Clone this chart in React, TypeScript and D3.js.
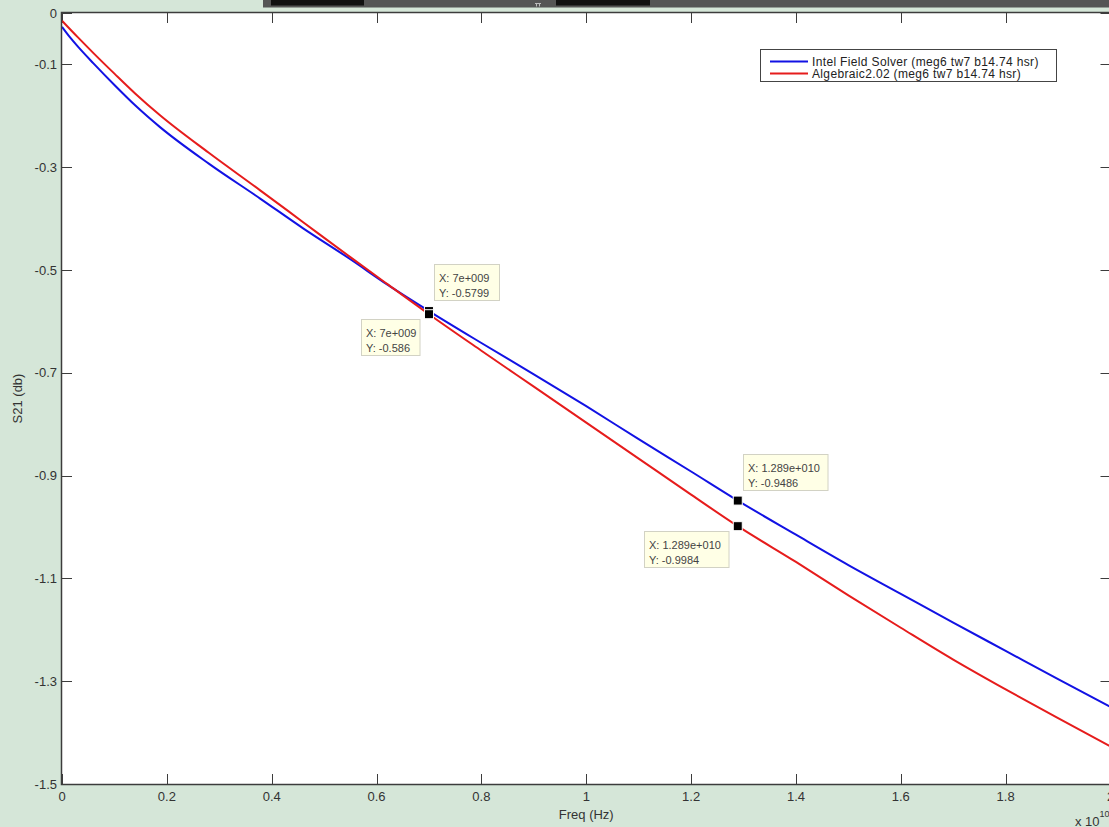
import React, { useEffect, useRef } from 'react';
import * as d3 from 'd3';

// frequency in units of 1e10 Hz
const freqIntel = [0, 0.015, 0.03, 0.06, 0.1, 0.14, 0.187, 0.28, 0.378, 0.46, 0.55, 0.62, 0.7, 0.8, 0.9, 1.0, 1.1, 1.2, 1.289, 1.4, 1.5, 1.6, 1.7, 1.8, 1.9, 2.0];
const intelS21 = [-0.027, -0.047, -0.065, -0.098, -0.14, -0.18, -0.222, -0.293, -0.361, -0.419, -0.479, -0.528, -0.5799, -0.642, -0.703, -0.765, -0.829, -0.892, -0.9486, -1.015, -1.074, -1.13, -1.186, -1.241, -1.296, -1.35];
const freqAlgebraic = [0, 0.03, 0.06, 0.1, 0.14, 0.187, 0.28, 0.378, 0.46, 0.55, 0.62, 0.7, 0.8, 0.9, 1.0, 1.1, 1.2, 1.289, 1.4, 1.5, 1.6, 1.7, 1.8, 1.9, 2.0];
const algebraicS21 = [-0.015, -0.047, -0.078, -0.118, -0.157, -0.199, -0.272, -0.345, -0.407, -0.475, -0.527, -0.586, -0.657, -0.727, -0.797, -0.867, -0.937, -0.9984, -1.068, -1.133, -1.196, -1.258, -1.316, -1.372, -1.427];

const seriesNames = ['Intel Field Solver (meg6 tw7 b14.74 hsr)', 'Algebraic2.02 (meg6 tw7 b14.74 hsr)'];
const seriesColors = ['#1212e4', '#e61c1c'];

const xTicks = [0, 0.2, 0.4, 0.6, 0.8, 1, 1.2, 1.4, 1.6, 1.8, 2];
const xTickLabels = ['0', '0.2', '0.4', '0.6', '0.8', '1', '1.2', '1.4', '1.6', '1.8', '2'];
const yTicks = [0, -0.1, -0.3, -0.5, -0.7, -0.9, -1.1, -1.3, -1.5];
const yTickLabels = ['0', '-0.1', '-0.3', '-0.5', '-0.7', '-0.9', '-1.1', '-1.3', '-1.5'];

// data tips
const tipFreq = [0.7, 1.289];
const tipFreqLabels = ['7e+009', '1.289e+010'];
const tipIntel = [-0.5799, -0.9486];
const tipIntelLabels = ['-0.5799', '-0.9486'];
const tipAlgebraic = [-0.586, -0.9984];
const tipAlgebraicLabels = ['-0.586', '-0.9984'];

const FONT = '"Liberation Sans", Arial, sans-serif';

const App = () => {
  const ref = useRef<SVGSVGElement>(null);

  useEffect(() => {
    const width = 1109;
    const height = 827;
    const margin = { top: 13, left: 62, bottom: 784, right: 1110.5 };

    const svg = d3.select(ref.current);
    svg.selectAll('*').remove();

    svg.append('rect').attr('width', width).attr('height', height).attr('fill', '#d5e6d8');

    // screenshot toolbar strip at the top
    svg.append('rect').attr('x', 263).attr('y', 0).attr('width', width - 263).attr('height', 7.5).attr('fill', '#555');
    svg.append('rect').attr('x', 271).attr('y', 0).attr('width', 93).attr('height', 5.5).attr('fill', '#111');
    svg.append('rect').attr('x', 556).attr('y', 0).attr('width', 94).attr('height', 5.5).attr('fill', '#111');
    svg.append('path').attr('d', 'M535,3.5h6M536.5,3.5v3M539.5,3.5v3').attr('stroke', '#bbb').attr('stroke-width', 1);

    const x = d3.scaleLinear().domain([0, 2]).range([margin.left, margin.right]);
    const y = d3.scaleLinear().domain([-1.5, 0]).range([margin.bottom, margin.top]);

    svg.append('rect')
      .attr('x', margin.left).attr('y', margin.top)
      .attr('width', margin.right - margin.left).attr('height', margin.bottom - margin.top)
      .attr('fill', '#fff');

    const axisColor = '#3c3c3c';
    const tickLen = 10;

    // ticks on all four sides
    const tg = svg.append('g').attr('stroke', axisColor).attr('stroke-width', 1);
    xTicks.forEach(t => {
      const px = Math.round(x(t)) + 0.5;
      tg.append('line').attr('x1', px).attr('x2', px).attr('y1', margin.bottom).attr('y2', margin.bottom - tickLen);
      tg.append('line').attr('x1', px).attr('x2', px).attr('y1', margin.top).attr('y2', margin.top + tickLen);
    });
    yTicks.forEach(t => {
      const py = Math.round(y(t)) + 0.5;
      tg.append('line').attr('x1', margin.left).attr('x2', margin.left + tickLen).attr('y1', py).attr('y2', py);
      tg.append('line').attr('x1', margin.right).attr('x2', margin.right - tickLen).attr('y1', py).attr('y2', py);
    });

    // lines
    const line = d3.line<[number, number]>()
      .x(d => x(d[0]))
      .y(d => y(d[1]))
      .curve(d3.curveMonotoneX);

    const series = [
      freqIntel.map((f, k) => [f, intelS21[k]] as [number, number]),
      freqAlgebraic.map((f, k) => [f, algebraicS21[k]] as [number, number]),
    ];
    series.forEach((pts, i) => {
      svg.append('path')
        .datum(pts)
        .attr('fill', 'none')
        .attr('stroke', seriesColors[i])
        .attr('stroke-width', 2)
        .attr('stroke-linejoin', 'round')
        .attr('d', line);
    });

    // frame
    svg.append('rect')
      .attr('x', margin.left - 0.5).attr('y', margin.top - 0.5)
      .attr('width', margin.right - margin.left + 1).attr('height', margin.bottom - margin.top + 1)
      .attr('fill', 'none').attr('stroke', axisColor).attr('stroke-width', 1.5);

    // tick labels
    svg.append('g')
      .selectAll('text')
      .data(xTicks)
      .join('text')
      .attr('x', d => x(d))
      .attr('y', 801)
      .attr('text-anchor', 'middle')
      .attr('font-family', FONT)
      .attr('font-size', 13)
      .attr('fill', '#333')
      .text((d, i) => xTickLabels[i]);

    svg.append('g')
      .selectAll('text')
      .data(yTicks)
      .join('text')
      .attr('x', 57)
      .attr('y', d => y(d))
      .attr('dy', '0.35em')
      .attr('text-anchor', 'end')
      .attr('font-family', FONT)
      .attr('font-size', 13)
      .attr('fill', '#333')
      .text((d, i) => yTickLabels[i]);

    // axis titles
    svg.append('text')
      .attr('x', (margin.left + margin.right) / 2).attr('y', 819)
      .attr('text-anchor', 'middle')
      .attr('font-family', FONT).attr('font-size', 13).attr('fill', '#333')
      .text('Freq (Hz)');

    svg.append('text')
      .attr('transform', `translate(22,${(margin.top + margin.bottom) / 2}) rotate(-90)`)
      .attr('text-anchor', 'middle')
      .attr('font-family', FONT).attr('font-size', 13).attr('fill', '#333')
      .text('S21 (db)');

    const exp = svg.append('text')
      .attr('x', 1075).attr('y', 826)
      .attr('font-family', FONT).attr('font-size', 13).attr('fill', '#333');
    exp.append('tspan').text('x 10');
    exp.append('tspan').attr('font-size', 9).attr('dy', -9).text('10');

    // legend
    const lg = svg.append('g');
    lg.append('rect')
      .attr('x', 760.5).attr('y', 49.5).attr('width', 296).attr('height', 32)
      .attr('fill', '#fff').attr('stroke', '#444').attr('stroke-width', 1);
    seriesNames.forEach((name, i) => {
      const ly = 61.5 + i * 12;
      lg.append('line')
        .attr('x1', 770).attr('x2', 808).attr('y1', ly).attr('y2', ly)
        .attr('stroke', seriesColors[i]).attr('stroke-width', 2);
      lg.append('text')
        .attr('x', 812).attr('y', ly).attr('dy', '0.35em')
        .attr('font-family', FONT).attr('font-size', 12).attr('letter-spacing', 0.35)
        .attr('fill', '#222')
        .text(name);
    });

    // data tips
    const tips: { f: number; v: number; fl: string; vl: string; side: 'above' | 'below' }[] = [];
    tipFreq.forEach((f, i) => {
      tips.push({ f, v: tipIntel[i], fl: tipFreqLabels[i], vl: tipIntelLabels[i], side: 'above' });
      tips.push({ f, v: tipAlgebraic[i], fl: tipFreqLabels[i], vl: tipAlgebraicLabels[i], side: 'below' });
    });

    const tipG = svg.append('g');
    tips.forEach(t => {
      const px = x(t.f);
      const py = y(t.v);
      const l1 = `X: ${t.fl}`;
      const l2 = `Y: ${t.vl}`;
      const w = Math.max(l1.length, l2.length) * 6.5;
      const h = 36;
      const bx = t.side === 'above' ? px + 5 : px - 9 - w;
      const by = t.side === 'above' ? py - 47 : py + 5;
      tipG.append('rect')
        .attr('x', Math.round(bx) + 0.5).attr('y', Math.round(by) + 0.5)
        .attr('width', w).attr('height', h)
        .attr('fill', '#ffffe6').attr('stroke', '#d2d2c4').attr('stroke-width', 1);
      [l1, l2].forEach((s, k) => {
        tipG.append('text')
          .attr('x', Math.round(bx) + 5).attr('y', Math.round(by) + 14 + k * 15)
          .attr('dy', '0.35em')
          .attr('font-family', FONT).attr('font-size', 11).attr('fill', '#444')
          .text(s);
      });
    });
    tips.forEach(t => {
      tipG.append('rect')
        .attr('x', x(t.f) - 4.5).attr('y', y(t.v) - 4.5)
        .attr('width', 9).attr('height', 9)
        .attr('fill', '#000').attr('stroke', '#fff').attr('stroke-width', 1);
    });
  }, []);

  return (
    <div style={{ position: 'absolute', left: 0, top: 0 }}>
      <svg ref={ref} width={1109} height={827} style={{ display: 'block' }} />
    </div>
  );
};

export default App;
